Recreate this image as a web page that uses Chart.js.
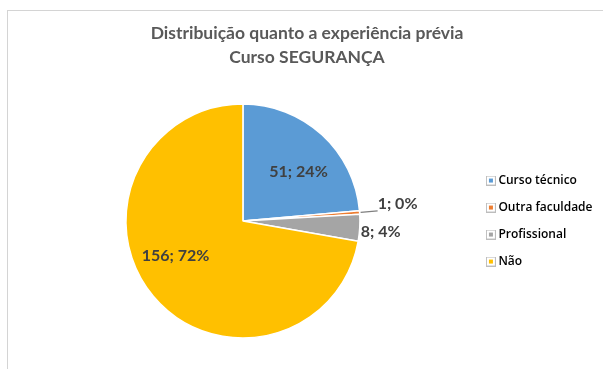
<!DOCTYPE html>
<html>
<head>
<meta charset="utf-8">
<script src="https://cdn.jsdelivr.net/npm/chart.js@4/dist/chart.umd.min.js"></script>
<style>
  html, body { margin: 0; padding: 0; background: #ffffff; overflow: hidden; }
  #frame {
    position: absolute; left: 7px; top: 10px;
    width: 640px; height: 400px;
    border: 1px solid #d4d4d4; background: #ffffff;
  }
  #chart { position: absolute; left: 0; top: 0; }
</style>
</head>
<body>
<div id="frame"><canvas id="chart" width="620" height="360"></canvas></div>
<script>
// Previous experience of the SEGURANÇA course students
const categories = ['Curso técnico', 'Outra faculdade', 'Profissional', 'Não'];
const counts = [51, 1, 8, 156];
const sliceColors = ['#5B9BD5', '#ED7D31', '#A5A5A5', '#FFC000'];
const titleLines = ['Distribuição quanto a experiência prévia', 'Curso SEGURANÇA'];

const total = counts.reduce((a, b) => a + b, 0);

// Small framed legend marker: grey outline, white gap, coloured centre
function legendMarker(color) {
  const c = document.createElement('canvas');
  c.width = 10; c.height = 10;
  const g = c.getContext('2d');
  g.fillStyle = '#ffffff';
  g.fillRect(0, 0, 10, 10);
  g.strokeStyle = '#bdbdbd';
  g.lineWidth = 1;
  g.strokeRect(0.5, 0.5, 9, 9);
  g.fillStyle = color;
  g.fillRect(3, 3, 4, 4);
  return c;
}

// "value; percent" labels placed on or beside each slice
const sliceLabels = {
  id: 'sliceLabels',
  afterDatasetsDraw(chart, args, opts) {
    const ctx = chart.ctx;
    const meta = chart.getDatasetMeta(0);
    ctx.save();
    ctx.font = 'bold 16px Lato, "DejaVu Sans", sans-serif';
    ctx.fillStyle = '#404040';
    ctx.textBaseline = 'middle';
    meta.data.forEach((arc, i) => {
      const v = counts[i];
      const text = v + '; ' + Math.round(v / total * 100) + '%';
      const mid = (arc.startAngle + arc.endAngle) / 2;
      const R = arc.outerRadius;
      const mode = opts.modes[i];
      if (mode === 'inside') {
        const r = R * opts.insideRatio;
        const nudge = opts.nudges[i] || [0, 0];
        ctx.textAlign = 'center';
        ctx.fillText(text, arc.x + Math.cos(mid) * r + nudge[0], arc.y + Math.sin(mid) * r + nudge[1]);
      } else if (mode === 'outside') {
        const ex = arc.x + Math.cos(mid) * R;
        const ey = arc.y + Math.sin(mid) * R;
        ctx.textAlign = 'left';
        ctx.fillText(text, ex + 1, ey + 4);
      } else if (mode === 'leader') {
        const ex = arc.x + Math.cos(mid) * (R + 1);
        const ey = arc.y + Math.sin(mid) * (R + 1);
        ctx.strokeStyle = '#7f7f7f';
        ctx.lineWidth = 1.2;
        ctx.beginPath();
        ctx.moveTo(ex, ey);
        ctx.lineTo(ex + 17, ey - 1.5);
        ctx.stroke();
        ctx.textAlign = 'left';
        ctx.fillText(text, ex + 17, ey - 9);
      }
    });
    ctx.restore();
  }
};

new Chart(document.getElementById('chart'), {
  type: 'pie',
  data: {
    labels: categories,
    datasets: [{
      data: counts,
      backgroundColor: sliceColors,
      borderColor: '#ffffff',
      borderWidth: 1.5,
      radius: 117
    }]
  },
  options: {
    responsive: false,
    animation: false,
    layout: { padding: { left: 3.5, right: 25.5, top: 0, bottom: 8 } },
    plugins: {
      title: {
        display: true,
        text: titleLines,
        color: '#595959',
        font: { family: 'Lato', size: 17.5, weight: 'bold', lineHeight: 1.372 },
        padding: { top: 10, bottom: 10 }
      },
      legend: {
        position: 'right',
        align: 'center',
        fullSize: false,
        labels: {
          usePointStyle: true,
          pointStyleWidth: 3,
          padding: 15,
          color: '#595959',
          font: { family: 'Open Sans', size: 12, weight: '600' },
          generateLabels(chart) {
            return categories.map((name, i) => ({
              text: name,
              fillStyle: sliceColors[i],
              strokeStyle: '#bdbdbd',
              lineWidth: 1,
              pointStyle: legendMarker(sliceColors[i]),
              hidden: false,
              index: i
            }));
          }
        }
      },
      tooltip: { enabled: false },
      sliceLabels: {
        modes: ['inside', 'leader', 'outside', 'inside'],
        insideRatio: 0.64,
        nudges: [[5, 6], [0, 0], [0, 0], [-10, -13]]
      }
    }
  },
  plugins: [sliceLabels]
});
</script>
</body>
</html>
